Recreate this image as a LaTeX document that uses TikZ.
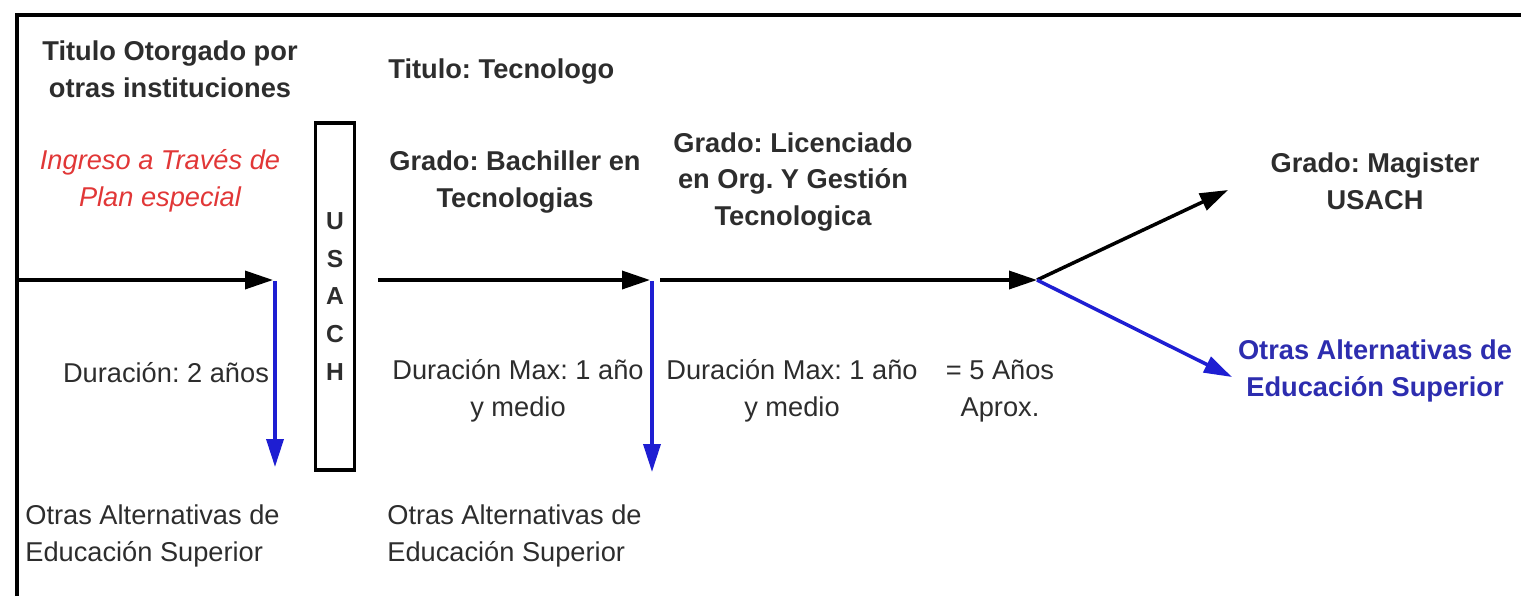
\documentclass[tikz,border=0pt]{standalone}
\usepackage{fontspec}
\setmainfont{Liberation Sans}
\usetikzlibrary{arrows.meta}
\frenchspacing

\definecolor{txtgray}{RGB}{45,45,45}
\definecolor{dropblue}{RGB}{30,30,210}
\definecolor{altblue}{RGB}{45,45,175}
\definecolor{entryred}{RGB}{225,55,55}

\tikzset{
  lbl/.style={align=center, text=txtgray, inner sep=0pt,
    font=\fontsize{15.5}{21}\selectfont},
  lblbf/.style={lbl, font=\fontsize{15.5}{21}\selectfont\bfseries},
  flow/.style={line width=2pt, -{Triangle[length=5.6mm,width=3.6mm]}},
  drop/.style={flow, draw=dropblue, -{Triangle[length=5.6mm,width=3.4mm,fill=dropblue]}}
}

\begin{document}
\begin{tikzpicture}[x=0.02cm, y=-0.02cm]

    \useasboundingbox (0,0) rectangle (1521,596);

    % frame
    \draw[line width=2.2pt] (17,596) -- (17,15) -- (1521,15);

    % usach box
    \node[draw, line width=1.8pt, minimum width=0.78cm, minimum height=6.94cm,
          lblbf, font=\fontsize{14}{21.5}\selectfont\bfseries] (usach) at (335,296.5)
          {U\\S\\A\\C\\H};

    % points on the line
    \coordinate (s1) at (18,280);
    \coordinate (e1) at (273,280);
    \coordinate (d1) at (275,281);
    \coordinate (d1e) at (275,467);
    \coordinate (s2) at (378,280);
    \coordinate (e2) at (650,280);
    \coordinate (d2) at (652,281);
    \coordinate (d2e) at (652,472);
    \coordinate (s3) at (660,280);
    \coordinate (e3) at (1037,280);
    \coordinate (up) at (1228,190);
    \coordinate (dn) at (1232,377);

    % arrows
    \draw[flow] (s1) -- (e1);
    \draw[flow] (s2) -- (e2);
    \draw[flow] (s3) -- (e3);
    \draw[flow] (e3) -- (up);
    \draw[drop] (d1) -- (d1e);
    \draw[drop] (d2) -- (d2e);
    \draw[drop] (e3) -- (dn);

    % upper labels
    \node[lblbf] (otorg) at (170,69) {Titulo Otorgado por\\otras instituciones};
    \node[lblbf, anchor=west] (tecno) at (388,72) {Titulo: Tecnologo};
    \node[lbl, text=entryred, font=\fontsize{15.5}{21}\selectfont\itshape] (ingreso) at (160,181)
          {Ingreso a Través de\\Plan especial};
    \node[lblbf] (bachi) at (515,182) {Grado: Bachiller en\\Tecnologias};
    \node[lblbf] (licen) at (793,182) {Grado: Licenciado\\en Org. Y Gestión\\Tecnologica};
    \node[lblbf] (magis) at (1375,181) {Grado: Magister\\USACH};

    % lower labels
    \node[lbl] (dur1) at (166,373) {Duración: 2 años};
    \node[lbl] (dur2) at (518,391) {Duración Max: 1 año\\y medio};
    \node[lbl] (dur3) at (792,391) {Duración Max: 1 año\\y medio};
    \node[lbl] (total) at (1000,391) {= 5 Años\\Aprox.};
    \node[lbl, align=left, anchor=west] (alt1) at (25,536) {Otras Alternativas de\\Educación Superior};
    \node[lbl, align=left, anchor=west] (alt2) at (387,536) {Otras Alternativas de\\Educación Superior};
    \node[lblbf, text=altblue] (alt3) at (1375,371) {Otras Alternativas de\\Educación Superior};

\end{tikzpicture}
\end{document}
